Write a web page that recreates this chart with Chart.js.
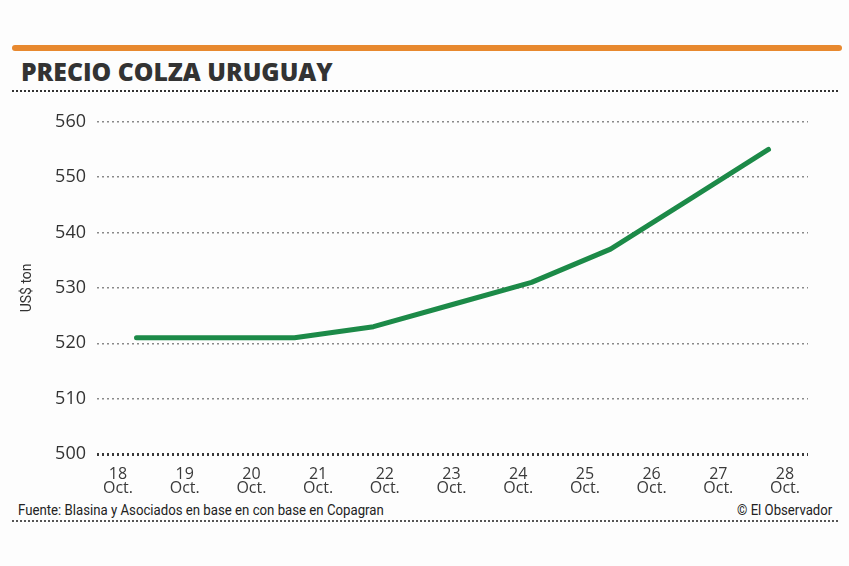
<!DOCTYPE html>
<html>
<head>
<meta charset="utf-8">
<script src="https://cdn.jsdelivr.net/npm/chart.js@4.4.1/dist/chart.umd.min.js"></script>
<style>
  html, body { margin: 0; padding: 0; background: #fdfdfd; }
  body { width: 849px; height: 566px; position: relative; overflow: hidden; }
  .bar { position: absolute; left: 12px; top: 45px; width: 830px; height: 6px; background: #e8892f; border-radius: 3px; }
  .title { position: absolute; left: 21px; top: 55px; font-family: "Open Sans", sans-serif; font-weight: 800; font-size: 24px; color: #333; white-space: nowrap; transform-origin: left center; }
  .dots { position: absolute; left: 12px; width: 826px; height: 0; border-top: 2px dotted #333; }
  .foot { position: absolute; top: 502px; font-family: Roboto, sans-serif; font-size: 14px; color: #222; white-space: nowrap; }
  #wrap { position: absolute; left: 0; top: 100px; width: 849px; height: 400px; }
</style>
</head>
<body>
<div class="bar"></div>
<div class="title" id="title">PRECIO COLZA URUGUAY</div>
<div class="dots" style="top: 90px;"></div>
<div id="wrap"><canvas id="priceChart"></canvas></div>
<div class="foot" id="src" style="left: 18px; transform-origin: left center;">Fuente: Blasina y Asociados en base en con base en Copagran</div>
<div class="foot" id="copy" style="right: 17px; transform-origin: right center;">© El Observador</div>
<div class="dots" style="top: 520px; border-top-color: #555;"></div>

<script>
// --- DATA ---
const days = [18, 19, 20, 21, 22, 23, 24, 25, 26, 27, 28];   // x tick labels (Oct.)
const samples = ['1', '2', '3', '4', '5', '6', '7', '8', '9']; // price readings along the period
const prices = [521, 521, 521, 523, 527, 531, 537, 546, 555];  // US$ per ton
const yTicks = [500, 510, 520, 530, 540, 550, 560];

// squeeze texts to the widths they have in the reference
function fitWidth(id, w) {
    const el = document.getElementById(id);
    el.style.transform = 'scaleX(' + (w / el.offsetWidth) + ')';
}
fitWidth('title', 312);
fitWidth('src', 366);
fitWidth('copy', 95);

const ctx = document.getElementById('priceChart').getContext('2d');
new Chart(ctx, {
    type: 'line',
    data: {
        labels: samples,
        datasets: [{
            label: 'Precio colza',
            data: prices,
            xAxisID: 'xd',
            borderColor: '#1c8a48',
            borderWidth: 5,
            borderCapStyle: 'round',
            borderJoinStyle: 'round',
            pointRadius: 0,
            tension: 0,
            fill: false
        }]
    },
    options: {
        responsive: true,
        maintainAspectRatio: false,
        animation: false,
        layout: { padding: { left: 0, right: 41, top: 17, bottom: 0 } },
        plugins: { legend: { display: false }, tooltip: { enabled: false } },
        scales: {
            xd: {
                type: 'category',
                display: false,
                offset: true
            },
            x: {
                type: 'linear',
                position: 'bottom',
                min: 17.685,
                max: 28.345,
                afterBuildTicks: s => { s.ticks = days.map(d => ({ value: d })); },
                afterFit: s => { s.height = 46; },
                grid: { display: false },
                border: { display: false },
                ticks: {
                    autoSkip: false,
                    maxRotation: 0,
                    padding: 5,
                    color: '#3a3a3a',
                    font: { family: 'Open Sans', size: 16, lineHeight: 0.9 },
                    callback: v => [String(v), 'Oct.']
                }
            },
            y: {
                min: 500,
                max: 560,
                afterBuildTicks: s => { s.ticks = yTicks.map(v => ({ value: v })); },
                afterFit: s => { s.width = 97; },
                border: { display: false, dash: [2, 3] },
                grid: {
                    drawTicks: false,
                    color: c => c.tick && c.tick.value === 500 ? '#3a3a3a' : '#8a8a8a',
                    lineWidth: c => c.tick && c.tick.value === 500 ? 3 : 1.5
                },
                ticks: {
                    padding: 11,
                    color: '#333',
                    font: { family: 'Open Sans', size: 18 }
                },
                title: {
                    display: true,
                    text: 'US$ ton',
                    color: '#333',
                    padding: { top: 19, bottom: 0 },
                    font: { family: 'Roboto', size: 14 }
                }
            }
        }
    }
});
</script>
</body>
</html>
